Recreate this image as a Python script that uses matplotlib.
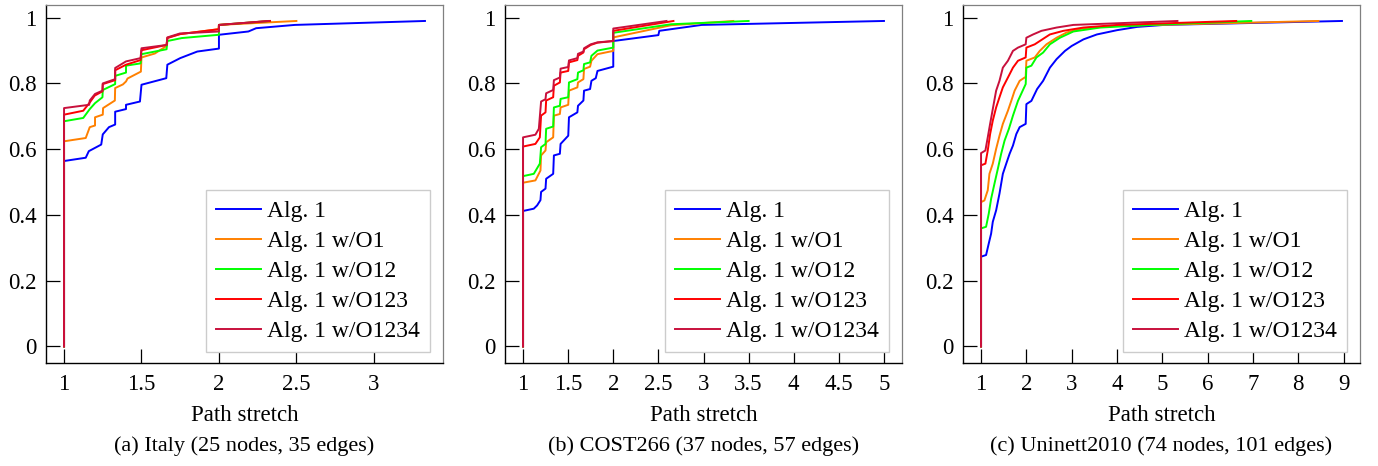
import numpy as np
import matplotlib.pyplot as plt

plt.rcParams['font.family'] = 'serif'
plt.rcParams['font.serif'] = ['Liberation Serif', 'DejaVu Serif']

names = ['Alg. 1', 'Alg. 1 w/O1', 'Alg. 1 w/O12', 'Alg. 1 w/O123', 'Alg. 1 w/O1234']
colors = ['#0000ff', '#ff8000', '#00ff00', '#ff0000', '#c8103c']

# (a) Italy
it_a1_x = [1, 1, 1.14, 1.16, 1.24, 1.25, 1.29, 1.33, 1.33, 1.40, 1.40, 1.49, 1.50, 1.66, 1.667, 1.75, 1.86, 2.0, 2.0, 2.19, 2.24, 2.49, 3.33]
it_a1_y = [0, 0.564, 0.574, 0.594, 0.614, 0.645, 0.667, 0.675, 0.714, 0.722, 0.735, 0.745, 0.796, 0.816, 0.857, 0.877, 0.897, 0.906, 0.948, 0.958, 0.968, 0.978, 0.99]
it_o1_x = [1, 1, 1.14, 1.166, 1.2, 1.2, 1.25, 1.252, 1.328, 1.33, 1.38, 1.4, 1.41, 1.496, 1.5, 1.586, 1.662, 1.667, 1.75, 1.996, 2.0, 2.5]
it_o1_y = [0, 0.624, 0.634, 0.667, 0.672, 0.697, 0.705, 0.725, 0.748, 0.786, 0.797, 0.806, 0.815, 0.836, 0.879, 0.891, 0.914, 0.939, 0.95, 0.965, 0.978, 0.99]
it_o12_x = [1, 1, 1.124, 1.166, 1.2, 1.248, 1.25, 1.33, 1.33, 1.4, 1.4, 1.494, 1.5, 1.662, 1.667, 1.76, 2.0, 2.0, 2.33]
it_o12_y = [0, 0.685, 0.695, 0.722, 0.74, 0.758, 0.78, 0.798, 0.823, 0.833, 0.854, 0.861, 0.889, 0.904, 0.929, 0.938, 0.948, 0.978, 0.99]
it_o123_x = [1, 1, 1.124, 1.166, 1.198, 1.248, 1.25, 1.33, 1.33, 1.4, 1.494, 1.5, 1.662, 1.667, 1.748, 2.0, 2.0, 2.33]
it_o123_y = [0, 0.705, 0.717, 0.742, 0.763, 0.776, 0.798, 0.81, 0.84, 0.857, 0.871, 0.901, 0.917, 0.938, 0.95, 0.965, 0.978, 0.99]
it_o1234_x = [1, 1, 1.162, 1.166, 1.2, 1.248, 1.25, 1.33, 1.33, 1.4, 1.494, 1.5, 1.662, 1.667, 1.748, 2.0, 2.0, 2.32]
it_o1234_y = [0, 0.725, 0.735, 0.748, 0.768, 0.778, 0.8, 0.813, 0.847, 0.867, 0.877, 0.907, 0.917, 0.94, 0.952, 0.958, 0.978, 0.99]

# (b) COST266
co_a1_x = [1, 1, 1.119, 1.156, 1.193, 1.2, 1.249, 1.256, 1.334, 1.342, 1.408, 1.416, 1.501, 1.509, 1.602, 1.609, 1.669, 1.676, 1.743, 1.758, 1.806, 1.825, 2.0, 2.0, 2.5, 2.51, 2.98, 5.0]
co_a1_y = [0, 0.412, 0.419, 0.429, 0.445, 0.47, 0.48, 0.51, 0.525, 0.581, 0.586, 0.616, 0.641, 0.697, 0.712, 0.732, 0.748, 0.778, 0.783, 0.808, 0.816, 0.838, 0.851, 0.929, 0.947, 0.96, 0.978, 0.99]
co_o1_x = [1, 1, 1.137, 1.193, 1.2, 1.249, 1.256, 1.334, 1.342, 1.408, 1.416, 1.501, 1.509, 1.602, 1.609, 1.669, 1.676, 1.743, 1.758, 1.825, 2.0, 2.0, 2.64, 3.33]
co_o1_y = [0, 0.498, 0.505, 0.535, 0.581, 0.596, 0.621, 0.636, 0.702, 0.707, 0.727, 0.735, 0.778, 0.788, 0.803, 0.813, 0.844, 0.851, 0.869, 0.889, 0.899, 0.94, 0.977, 0.99]
co_o12_x = [1, 1, 1.119, 1.186, 1.2, 1.249, 1.256, 1.334, 1.342, 1.408, 1.416, 1.501, 1.509, 1.602, 1.609, 1.669, 1.676, 1.743, 1.758, 1.825, 2.0, 2.0, 2.64, 3.5]
co_o12_y = [0, 0.518, 0.525, 0.556, 0.606, 0.616, 0.662, 0.669, 0.727, 0.732, 0.753, 0.758, 0.803, 0.813, 0.833, 0.84, 0.859, 0.864, 0.884, 0.9, 0.909, 0.954, 0.98, 0.99]
co_o123_x = [1, 1, 1.137, 1.186, 1.2, 1.249, 1.256, 1.334, 1.342, 1.408, 1.416, 1.501, 1.509, 1.602, 1.609, 1.669, 1.676, 1.75, 1.825, 2.0, 2.0, 2.667]
co_o123_y = [0, 0.608, 0.616, 0.636, 0.702, 0.712, 0.748, 0.758, 0.793, 0.803, 0.833, 0.838, 0.864, 0.871, 0.884, 0.894, 0.904, 0.917, 0.924, 0.929, 0.96, 0.99]
co_o1234_x = [1, 1, 1.137, 1.175, 1.2, 1.249, 1.256, 1.334, 1.342, 1.408, 1.416, 1.501, 1.509, 1.602, 1.609, 1.669, 1.676, 1.75, 1.825, 2.0, 2.0, 2.59]
co_o1234_y = [0, 0.636, 0.644, 0.662, 0.745, 0.752, 0.77, 0.78, 0.81, 0.818, 0.845, 0.85, 0.87, 0.877, 0.89, 0.897, 0.907, 0.919, 0.925, 0.929, 0.967, 0.99]

# (c) Uninett2010
un_a1_x = [1, 1, 1.111, 1.17, 1.222, 1.259, 1.333, 1.407, 1.481, 1.556, 1.63, 1.704, 1.778, 1.852, 1.985, 2.0, 2.111, 2.237, 2.37, 2.519, 2.667, 2.852, 3.0, 3.259, 3.556, 4.0, 4.444, 5.037, 8.963]
un_a1_y = [0, 0.273, 0.278, 0.313, 0.343, 0.379, 0.414, 0.465, 0.525, 0.556, 0.586, 0.611, 0.646, 0.667, 0.677, 0.737, 0.747, 0.783, 0.808, 0.848, 0.874, 0.899, 0.914, 0.934, 0.949, 0.962, 0.972, 0.978, 0.99]
un_o1_x = [1, 1, 1.074, 1.148, 1.185, 1.259, 1.333, 1.407, 1.481, 1.593, 1.667, 1.741, 1.852, 1.985, 2.0, 2.185, 2.296, 2.444, 2.667, 2.889, 3.259, 4.0, 8.444]
un_o1_y = [0, 0.439, 0.444, 0.475, 0.525, 0.556, 0.601, 0.641, 0.677, 0.717, 0.747, 0.778, 0.808, 0.82, 0.869, 0.879, 0.899, 0.919, 0.939, 0.955, 0.968, 0.975, 0.99]
un_o12_x = [1, 1, 1.111, 1.17, 1.222, 1.296, 1.37, 1.444, 1.519, 1.615, 1.704, 1.815, 1.985, 2.0, 2.111, 2.222, 2.37, 2.519, 2.741, 3.037, 3.63, 4.741, 6.963]
un_o12_y = [0, 0.359, 0.364, 0.404, 0.449, 0.495, 0.54, 0.586, 0.626, 0.662, 0.702, 0.747, 0.798, 0.848, 0.854, 0.879, 0.894, 0.919, 0.939, 0.958, 0.97, 0.978, 0.99]
un_o123_x = [1, 1, 1.096, 1.148, 1.2, 1.259, 1.333, 1.407, 1.481, 1.593, 1.704, 1.815, 1.985, 2.0, 2.185, 2.296, 2.519, 2.815, 3.259, 4.0, 6.63]
un_o123_y = [0, 0.551, 0.556, 0.596, 0.646, 0.687, 0.727, 0.758, 0.788, 0.818, 0.848, 0.869, 0.879, 0.909, 0.919, 0.929, 0.949, 0.96, 0.97, 0.978, 0.99]
un_o1234_x = [1, 1, 1.096, 1.148, 1.2, 1.259, 1.333, 1.407, 1.481, 1.593, 1.704, 1.815, 1.985, 2.0, 2.148, 2.333, 2.667, 3.037, 5.333]
un_o1234_y = [0, 0.588, 0.596, 0.636, 0.677, 0.722, 0.778, 0.808, 0.848, 0.869, 0.899, 0.909, 0.919, 0.939, 0.949, 0.96, 0.97, 0.978, 0.99]

panels = [
    ([it_a1_x, it_o1_x, it_o12_x, it_o123_x, it_o1234_x],
     [it_a1_y, it_o1_y, it_o12_y, it_o123_y, it_o1234_y],
     [1, 1.5, 2, 2.5, 3], '(a) Italy (25 nodes, 35 edges)'),
    ([co_a1_x, co_o1_x, co_o12_x, co_o123_x, co_o1234_x],
     [co_a1_y, co_o1_y, co_o12_y, co_o123_y, co_o1234_y],
     [1, 1.5, 2, 2.5, 3, 3.5, 4, 4.5, 5], '(b) COST266 (37 nodes, 57 edges)'),
    ([un_a1_x, un_o1_x, un_o12_x, un_o123_x, un_o1234_x],
     [un_a1_y, un_o1_y, un_o12_y, un_o123_y, un_o1234_y],
     [1, 2, 3, 4, 5, 6, 7, 8, 9], '(c) Uninett2010 (74 nodes, 101 edges)'),
]

fig = plt.figure(figsize=(13.78, 4.66), dpi=100)
lefts = [46, 505, 963]
fs = 16.5

for left, (xs, ys, xticks, caption) in zip(lefts, panels):
    ax = fig.add_axes([left / 1378, 1 - 362.7 / 466, 397 / 1378, 358 / 466])
    for x, y, name, c in zip(xs, ys, names, colors):
        ax.plot(x, y, color=c, lw=1.4, label=name)
    xmax = max(max(x) for x in xs)
    ymax = max(max(y) for y in ys)
    ax.set_xlim(1 - 0.05 * (xmax - 1), xmax + 0.05 * (xmax - 1))
    ax.set_ylim(-0.05 * ymax, 1.05 * ymax)
    ax.set_xticks(xticks)
    ax.set_xticklabels(['%g' % t for t in xticks])
    ax.set_yticks([0, 0.2, 0.4, 0.6, 0.8, 1])
    ax.set_yticklabels(['0', '0.2', '0.4', '0.6', '0.8', '1'])
    ax.tick_params(direction='in', length=10, width=0.9, labelsize=fs,
                   top=False, right=False, pad=7)
    ax.tick_params(axis='x', pad=8)
    for s in ['top', 'right']:
        ax.spines[s].set_color('#808080')
        ax.spines[s].set_linewidth(0.9)
    for s in ['left', 'bottom']:
        ax.spines[s].set_linewidth(1.0)
    ax.set_xlabel('Path stretch', fontsize=fs, labelpad=7)
    leg = ax.legend(loc='lower right', bbox_to_anchor=(0.967, 0.03), borderaxespad=0,
                    fontsize=17, handlelength=1.9, handletextpad=0.25, labelspacing=0.36,
                    borderpad=0.42, fancybox=False, framealpha=1, edgecolor='#cccccc')
    leg.get_frame().set_linewidth(1.0)
    fig.text((left + 397 / 2) / 1378, 1 - 446 / 466, caption, ha='center', va='center',
             fontsize=16)

fig.savefig('out.png', dpi=100)
